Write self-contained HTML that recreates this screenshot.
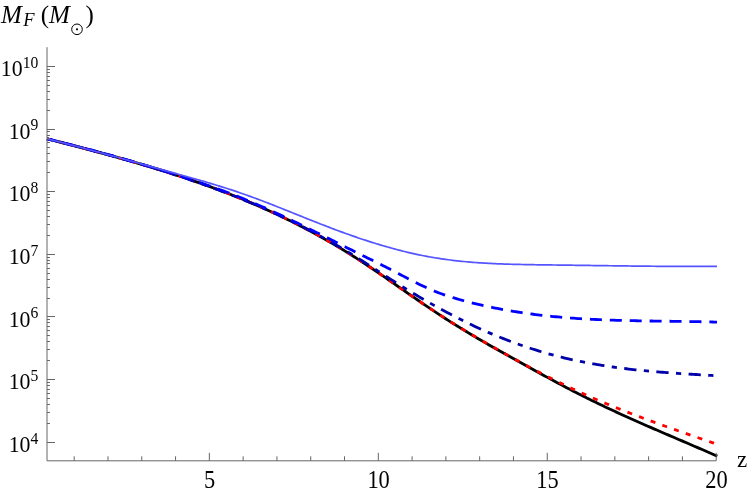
<!DOCTYPE html>
<html><head><meta charset="utf-8"><title>chart</title>
<style>html,body{margin:0;padding:0;background:#fff;}body{width:747px;height:492px;position:relative;overflow:hidden;font-family:"Liberation Serif",serif;}</style>
</head><body>
<svg width="747" height="492" viewBox="0 0 747 492" style="position:absolute;left:0;top:0">
<rect width="747" height="492" fill="#fff"/>
<g fill="none" stroke-linejoin="round">
<path d="M47.00,138.77 L49.24,139.35 L51.48,139.93 L53.73,140.51 L55.97,141.09 L58.21,141.67 L60.45,142.25 L62.69,142.83 L64.93,143.41 L67.18,143.99 L69.42,144.58 L71.66,145.16 L73.90,145.75 L76.14,146.33 L78.39,146.92 L80.63,147.51 L82.87,148.10 L85.11,148.69 L87.35,149.29 L89.59,149.88 L91.84,150.48 L94.08,151.08 L96.32,151.68 L98.56,152.28 L100.80,152.88 L103.05,153.49 L105.29,154.10 L107.53,154.71 L109.77,155.32 L112.01,155.94 L114.25,156.56 L116.50,157.18 L118.74,157.80 L120.98,158.43 L123.22,159.06 L125.46,159.69 L127.71,160.33 L129.95,160.97 L132.19,161.61 L134.43,162.25 L136.67,162.90 L138.91,163.56 L141.16,164.21 L143.40,164.87 L145.64,165.54 L147.88,166.21 L150.12,166.88 L152.36,167.56 L154.61,168.24 L156.85,168.92 L159.09,169.61 L161.33,170.30 L163.57,171.00 L165.82,171.71 L168.06,172.41 L170.30,173.13 L172.54,173.84 L174.78,174.57 L177.02,175.30 L179.27,176.03 L181.51,176.77 L183.75,177.51 L185.99,178.26 L188.23,179.02 L190.48,179.78 L192.72,180.54 L194.96,181.32 L197.20,182.09 L199.44,182.88 L201.68,183.67 L203.93,184.47 L206.17,185.27 L208.41,186.08 L210.65,186.89 L212.89,187.72 L215.14,188.55 L217.38,189.38 L219.62,190.22 L221.86,191.07 L224.10,191.93 L226.34,192.79 L228.59,193.67 L230.83,194.54 L233.07,195.43 L235.31,196.32 L237.55,197.22 L239.80,198.13 L242.04,199.05 L244.28,199.97 L246.52,200.91 L248.76,201.85 L251.00,202.79 L253.25,203.75 L255.49,204.71 L257.73,205.69 L259.97,206.67 L262.21,207.66 L264.46,208.66 L266.70,209.67 L268.94,210.68 L271.18,211.71 L273.42,212.74 L275.66,213.79 L277.91,214.84 L280.15,215.90 L282.39,216.97 L284.63,218.05 L286.87,219.14 L289.12,220.24 L291.36,221.35 L293.60,222.47 L295.84,223.60 L298.08,224.74 L300.32,225.89 L302.57,227.05 L304.81,228.22 L307.05,229.40 L309.29,230.59 L311.53,231.80 L313.77,233.01 L316.02,234.23 L318.26,235.46 L320.50,236.71 L322.74,237.96 L324.98,239.23 L327.23,240.51 L329.47,241.80 L331.71,243.10 L333.95,244.41 L336.19,245.73 L338.43,247.07 L340.68,248.41 L342.92,249.77 L345.16,251.14 L347.40,252.52 L349.64,253.92 L351.89,255.32 L354.13,256.74 L356.37,258.17 L358.61,259.62 L360.85,261.07 L363.09,262.54 L365.34,264.02 L367.58,265.51 L369.82,267.01 L372.06,268.52 L374.30,270.04 L376.55,271.56 L378.79,273.09 L381.03,274.63 L383.27,276.17 L385.51,277.72 L387.75,279.27 L390.00,280.83 L392.24,282.38 L394.48,283.94 L396.72,285.50 L398.96,287.06 L401.21,288.62 L403.45,290.18 L405.69,291.73 L407.93,293.29 L410.17,294.84 L412.41,296.39 L414.66,297.94 L416.90,299.48 L419.14,301.02 L421.38,302.56 L423.62,304.09 L425.87,305.61 L428.11,307.12 L430.35,308.63 L432.59,310.14 L434.83,311.63 L437.07,313.11 L439.32,314.59 L441.56,316.06 L443.80,317.51 L446.04,318.96 L448.28,320.39 L450.53,321.81 L452.77,323.23 L455.01,324.63 L457.25,326.02 L459.49,327.41 L461.73,328.78 L463.98,330.15 L466.22,331.50 L468.46,332.85 L470.70,334.20 L472.94,335.53 L475.18,336.86 L477.43,338.18 L479.67,339.49 L481.91,340.80 L484.15,342.10 L486.39,343.39 L488.64,344.68 L490.88,345.96 L493.12,347.24 L495.36,348.52 L497.60,349.79 L499.84,351.06 L502.09,352.32 L504.33,353.58 L506.57,354.83 L508.81,356.09 L511.05,357.34 L513.30,358.59 L515.54,359.83 L517.78,361.08 L520.02,362.32 L522.26,363.57 L524.50,364.81 L526.75,366.05 L528.99,367.29 L531.23,368.52 L533.47,369.76 L535.71,370.99 L537.96,372.22 L540.20,373.45 L542.44,374.68 L544.68,375.90 L546.92,377.11 L549.16,378.33 L551.41,379.54 L553.65,380.75 L555.89,381.95 L558.13,383.15 L560.37,384.34 L562.62,385.53 L564.86,386.71 L567.10,387.89 L569.34,389.06 L571.58,390.23 L573.82,391.39 L576.07,392.54 L578.31,393.69 L580.55,394.83 L582.79,395.96 L585.03,397.09 L587.28,398.21 L589.52,399.32 L591.76,400.42 L594.00,401.52 L596.24,402.61 L598.48,403.70 L600.73,404.77 L602.97,405.84 L605.21,406.91 L607.45,407.96 L609.69,409.02 L611.94,410.06 L614.18,411.10 L616.42,412.14 L618.66,413.17 L620.90,414.19 L623.14,415.21 L625.39,416.23 L627.63,417.24 L629.87,418.25 L632.11,419.25 L634.35,420.25 L636.59,421.25 L638.84,422.24 L641.08,423.23 L643.32,424.21 L645.56,425.20 L647.80,426.18 L650.05,427.15 L652.29,428.13 L654.53,429.10 L656.77,430.07 L659.01,431.04 L661.25,432.01 L663.50,432.97 L665.74,433.93 L667.98,434.90 L670.22,435.86 L672.46,436.82 L674.71,437.78 L676.95,438.74 L679.19,439.70 L681.43,440.66 L683.67,441.62 L685.91,442.58 L688.16,443.54 L690.40,444.50 L692.64,445.46 L694.88,446.43 L697.12,447.39 L699.37,448.36 L701.61,449.32 L703.85,450.29 L706.09,451.26 L708.33,452.24 L710.57,453.21 L712.82,454.19 L715.06,455.17 L717.30,456.15" stroke="#000" stroke-width="2.8"/>
<path d="M47.00,138.77 L49.24,139.35 L51.47,139.92 L53.71,140.50 L55.95,141.08 L58.19,141.66 L60.42,142.23 L62.66,142.81 L64.90,143.39 L67.14,143.97 L69.37,144.55 L71.61,145.13 L73.85,145.72 L76.09,146.30 L78.32,146.89 L80.56,147.47 L82.80,148.06 L85.04,148.65 L87.27,149.24 L89.51,149.84 L91.75,150.43 L93.99,151.03 L96.22,151.63 L98.46,152.23 L100.70,152.83 L102.94,153.44 L105.17,154.04 L107.41,154.65 L109.65,155.26 L111.89,155.88 L114.12,156.50 L116.36,157.12 L118.60,157.74 L120.84,158.37 L123.07,159.00 L125.31,159.63 L127.55,160.26 L129.79,160.90 L132.02,161.54 L134.26,162.19 L136.50,162.84 L138.74,163.49 L140.97,164.15 L143.21,164.81 L145.45,165.47 L147.69,166.14 L149.92,166.81 L152.16,167.49 L154.40,168.17 L156.64,168.85 L158.87,169.54 L161.11,170.23 L163.35,170.93 L165.59,171.63 L167.82,172.34 L170.06,173.05 L172.30,173.77 L174.54,174.49 L176.77,175.22 L179.01,175.95 L181.25,176.69 L183.48,177.43 L185.72,178.18 L187.96,178.93 L190.20,179.69 L192.43,180.46 L194.67,181.23 L196.91,182.01 L199.15,182.79 L201.38,183.58 L203.62,184.37 L205.86,185.18 L208.10,185.98 L210.33,186.80 L212.57,187.62 L214.81,188.44 L217.05,189.28 L219.28,190.12 L221.52,190.97 L223.76,191.82 L226.00,192.68 L228.23,193.55 L230.47,194.43 L232.71,195.31 L234.95,196.20 L237.18,197.10 L239.42,198.00 L241.66,198.91 L243.90,199.83 L246.13,200.76 L248.37,201.70 L250.61,202.64 L252.85,203.59 L255.08,204.55 L257.32,205.52 L259.56,206.50 L261.80,207.48 L264.03,208.48 L266.27,209.48 L268.51,210.49 L270.75,211.51 L272.98,212.54 L275.22,213.58 L277.46,214.62 L279.70,215.68 L281.93,216.74 L284.17,217.82 L286.41,218.90 L288.65,219.99 L290.88,221.09 L293.12,222.21 L295.36,223.33 L297.60,224.46 L299.83,225.60 L302.07,226.75 L304.31,227.92 L306.55,229.09 L308.78,230.27 L311.02,231.47 L313.26,232.67 L315.49,233.89 L317.73,235.11 L319.97,236.35 L322.21,237.60 L324.44,238.86 L326.68,240.13 L328.92,241.41 L331.16,242.71 L333.39,244.01 L335.63,245.33 L337.87,246.66 L340.11,248.00 L342.34,249.36 L344.58,250.72 L346.82,252.10 L349.06,253.49 L351.29,254.90 L353.53,256.32 L355.77,257.74 L358.01,259.19 L360.24,260.64 L362.48,262.11 L364.72,263.59 L366.96,265.08 L369.19,266.59 L371.43,268.10 L373.67,269.62 L375.91,271.15 L378.14,272.69 L380.38,274.23 L382.62,275.78 L384.86,277.34 L387.09,278.90 L389.33,280.46 L391.57,282.02 L393.81,283.59 L396.04,285.16 L398.28,286.72 L400.52,288.29 L402.76,289.85 L404.99,291.42 L407.23,292.97 L409.47,294.53 L411.71,296.08 L413.94,297.62 L416.18,299.16 L418.42,300.69 L420.66,302.21 L422.89,303.72 L425.13,305.22 L427.37,306.72 L429.61,308.20 L431.84,309.68 L434.08,311.15 L436.32,312.61 L438.56,314.06 L440.79,315.50 L443.03,316.93 L445.27,318.36 L447.51,319.78 L449.74,321.18 L451.98,322.59 L454.22,323.98 L456.45,325.36 L458.69,326.74 L460.93,328.11 L463.17,329.47 L465.40,330.83 L467.64,332.18 L469.88,333.52 L472.12,334.85 L474.35,336.17 L476.59,337.49 L478.83,338.80 L481.07,340.11 L483.30,341.41 L485.54,342.70 L487.78,343.99 L490.02,345.28 L492.25,346.56 L494.49,347.83 L496.73,349.10 L498.97,350.37 L501.20,351.63 L503.44,352.89 L505.68,354.14 L507.92,355.39 L510.15,356.64 L512.39,357.88 L514.63,359.11 L516.87,360.34 L519.10,361.56 L521.34,362.78 L523.58,364.00 L525.82,365.20 L528.05,366.40 L530.29,367.60 L532.53,368.79 L534.77,369.97 L537.00,371.14 L539.24,372.31 L541.48,373.48 L543.72,374.63 L545.95,375.78 L548.19,376.92 L550.43,378.05 L552.67,379.18 L554.90,380.29 L557.14,381.40 L559.38,382.50 L561.62,383.60 L563.85,384.68 L566.09,385.76 L568.33,386.82 L570.57,387.88 L572.80,388.93 L575.04,389.97 L577.28,391.00 L579.52,392.03 L581.75,393.04 L583.99,394.05 L586.23,395.05 L588.46,396.04 L590.70,397.02 L592.94,398.00 L595.18,398.96 L597.41,399.92 L599.65,400.87 L601.89,401.82 L604.13,402.76 L606.36,403.69 L608.60,404.61 L610.84,405.53 L613.08,406.44 L615.31,407.35 L617.55,408.25 L619.79,409.14 L622.03,410.03 L624.26,410.91 L626.50,411.79 L628.74,412.66 L630.98,413.52 L633.21,414.38 L635.45,415.24 L637.69,416.09 L639.93,416.93 L642.16,417.77 L644.40,418.61 L646.64,419.44 L648.88,420.27 L651.11,421.09 L653.35,421.91 L655.59,422.73 L657.83,423.54 L660.06,424.35 L662.30,425.15 L664.54,425.96 L666.78,426.76 L669.01,427.55 L671.25,428.35 L673.49,429.14 L675.73,429.92 L677.96,430.71 L680.20,431.49 L682.44,432.28 L684.68,433.05 L686.91,433.83 L689.15,434.61 L691.39,435.38 L693.63,436.16 L695.86,436.93 L698.10,437.70 L700.34,438.47 L702.58,439.24 L704.81,440.01 L707.05,440.77 L709.29,441.54 L711.53,442.31 L713.76,443.08 L716.00,443.84" stroke="#ff0000" stroke-width="2.8" stroke-dasharray="5 7.42" stroke-dashoffset="0.04"/>
<path d="M47.00,138.82 L49.24,139.37 L51.47,139.92 L53.71,140.47 L55.95,141.03 L58.19,141.58 L60.42,142.14 L62.66,142.70 L64.90,143.27 L67.14,143.83 L69.37,144.40 L71.61,144.97 L73.85,145.54 L76.09,146.12 L78.32,146.69 L80.56,147.27 L82.80,147.85 L85.04,148.44 L87.27,149.02 L89.51,149.61 L91.75,150.21 L93.99,150.80 L96.22,151.40 L98.46,152.00 L100.70,152.61 L102.94,153.21 L105.17,153.82 L107.41,154.44 L109.65,155.05 L111.89,155.67 L114.12,156.30 L116.36,156.92 L118.60,157.55 L120.84,158.19 L123.07,158.82 L125.31,159.46 L127.55,160.11 L129.79,160.75 L132.02,161.41 L134.26,162.06 L136.50,162.72 L138.74,163.38 L140.97,164.05 L143.21,164.72 L145.45,165.39 L147.69,166.07 L149.92,166.75 L152.16,167.44 L154.40,168.13 L156.64,168.83 L158.87,169.53 L161.11,170.23 L163.35,170.94 L165.59,171.65 L167.82,172.37 L170.06,173.09 L172.30,173.82 L174.54,174.55 L176.77,175.29 L179.01,176.03 L181.25,176.78 L183.48,177.53 L185.72,178.28 L187.96,179.05 L190.20,179.81 L192.43,180.58 L194.67,181.36 L196.91,182.14 L199.15,182.93 L201.38,183.72 L203.62,184.52 L205.86,185.32 L208.10,186.13 L210.33,186.95 L212.57,187.77 L214.81,188.59 L217.05,189.42 L219.28,190.26 L221.52,191.11 L223.76,191.96 L226.00,192.82 L228.23,193.68 L230.47,194.55 L232.71,195.43 L234.95,196.31 L237.18,197.20 L239.42,198.10 L241.66,199.01 L243.90,199.92 L246.13,200.84 L248.37,201.76 L250.61,202.70 L252.85,203.64 L255.08,204.59 L257.32,205.55 L259.56,206.51 L261.80,207.48 L264.03,208.47 L266.27,209.46 L268.51,210.45 L270.75,211.46 L272.98,212.47 L275.22,213.50 L277.46,214.53 L279.70,215.57 L281.93,216.62 L284.17,217.68 L286.41,218.74 L288.65,219.82 L290.88,220.91 L293.12,222.00 L295.36,223.11 L297.60,224.22 L299.83,225.34 L302.07,226.48 L304.31,227.62 L306.55,228.77 L308.78,229.94 L311.02,231.11 L313.26,232.29 L315.49,233.49 L317.73,234.69 L319.97,235.91 L322.21,237.13 L324.44,238.37 L326.68,239.61 L328.92,240.87 L331.16,242.14 L333.39,243.42 L335.63,244.71 L337.87,246.01 L340.11,247.33 L342.34,248.65 L344.58,249.98 L346.82,251.33 L349.06,252.68 L351.29,254.05 L353.53,255.43 L355.77,256.81 L358.01,258.21 L360.24,259.62 L362.48,261.04 L364.72,262.46 L366.96,263.90 L369.19,265.34 L371.43,266.79 L373.67,268.24 L375.91,269.69 L378.14,271.14 L380.38,272.60 L382.62,274.05 L384.86,275.50 L387.09,276.95 L389.33,278.39 L391.57,279.82 L393.81,281.25 L396.04,282.67 L398.28,284.09 L400.52,285.49 L402.76,286.89 L404.99,288.28 L407.23,289.65 L409.47,291.02 L411.71,292.38 L413.94,293.73 L416.18,295.07 L418.42,296.40 L420.66,297.72 L422.89,299.02 L425.13,300.31 L427.37,301.60 L429.61,302.87 L431.84,304.13 L434.08,305.38 L436.32,306.62 L438.56,307.85 L440.79,309.07 L443.03,310.28 L445.27,311.48 L447.51,312.67 L449.74,313.85 L451.98,315.02 L454.22,316.18 L456.45,317.33 L458.69,318.47 L460.93,319.60 L463.17,320.72 L465.40,321.83 L467.64,322.93 L469.88,324.01 L472.12,325.08 L474.35,326.14 L476.59,327.19 L478.83,328.22 L481.07,329.23 L483.30,330.24 L485.54,331.23 L487.78,332.20 L490.02,333.16 L492.25,334.11 L494.49,335.04 L496.73,335.96 L498.97,336.87 L501.20,337.76 L503.44,338.64 L505.68,339.51 L507.92,340.37 L510.15,341.21 L512.39,342.04 L514.63,342.86 L516.87,343.67 L519.10,344.46 L521.34,345.25 L523.58,346.02 L525.82,346.78 L528.05,347.52 L530.29,348.26 L532.53,348.98 L534.77,349.69 L537.00,350.38 L539.24,351.07 L541.48,351.74 L543.72,352.40 L545.95,353.05 L548.19,353.68 L550.43,354.30 L552.67,354.91 L554.90,355.51 L557.14,356.09 L559.38,356.67 L561.62,357.23 L563.85,357.77 L566.09,358.31 L568.33,358.83 L570.57,359.34 L572.80,359.84 L575.04,360.33 L577.28,360.80 L579.52,361.27 L581.75,361.72 L583.99,362.16 L586.23,362.59 L588.46,363.01 L590.70,363.43 L592.94,363.83 L595.18,364.22 L597.41,364.60 L599.65,364.97 L601.89,365.33 L604.13,365.69 L606.36,366.03 L608.60,366.37 L610.84,366.69 L613.08,367.01 L615.31,367.32 L617.55,367.62 L619.79,367.92 L622.03,368.20 L624.26,368.48 L626.50,368.75 L628.74,369.02 L630.98,369.27 L633.21,369.52 L635.45,369.77 L637.69,370.00 L639.93,370.23 L642.16,370.46 L644.40,370.68 L646.64,370.89 L648.88,371.10 L651.11,371.30 L653.35,371.50 L655.59,371.69 L657.83,371.88 L660.06,372.06 L662.30,372.24 L664.54,372.42 L666.78,372.59 L669.01,372.75 L671.25,372.92 L673.49,373.08 L675.73,373.23 L677.96,373.39 L680.20,373.54 L682.44,373.68 L684.68,373.83 L686.91,373.97 L689.15,374.11 L691.39,374.25 L693.63,374.39 L695.86,374.52 L698.10,374.65 L700.34,374.79 L702.58,374.92 L704.81,375.05 L707.05,375.18 L709.29,375.31 L711.53,375.44 L713.76,375.56 L716.00,375.69" stroke="#0000aa" stroke-width="2.8" stroke-dasharray="12.3 7.4 5.2 7.39" stroke-dashoffset="19.87"/>
<path d="M47.00,138.80 L49.24,139.34 L51.48,139.89 L53.72,140.44 L55.96,140.99 L58.20,141.54 L60.44,142.10 L62.69,142.66 L64.93,143.22 L67.17,143.79 L69.41,144.35 L71.65,144.92 L73.89,145.50 L76.13,146.08 L78.37,146.65 L80.61,147.24 L82.85,147.82 L85.09,148.41 L87.33,149.00 L89.58,149.60 L91.82,150.19 L94.06,150.79 L96.30,151.40 L98.54,152.00 L100.78,152.61 L103.02,153.22 L105.26,153.84 L107.50,154.46 L109.74,155.08 L111.98,155.70 L114.22,156.33 L116.46,156.96 L118.71,157.59 L120.95,158.22 L123.19,158.86 L125.43,159.50 L127.67,160.15 L129.91,160.80 L132.15,161.45 L134.39,162.10 L136.63,162.76 L138.87,163.42 L141.11,164.08 L143.35,164.75 L145.60,165.42 L147.84,166.09 L150.08,166.76 L152.32,167.44 L154.56,168.12 L156.80,168.81 L159.04,169.49 L161.28,170.18 L163.52,170.88 L165.76,171.57 L168.00,172.27 L170.24,172.98 L172.48,173.68 L174.73,174.39 L176.97,175.10 L179.21,175.82 L181.45,176.54 L183.69,177.26 L185.93,177.99 L188.17,178.72 L190.41,179.45 L192.65,180.19 L194.89,180.93 L197.13,181.68 L199.37,182.44 L201.62,183.20 L203.86,183.96 L206.10,184.73 L208.34,185.51 L210.58,186.29 L212.82,187.08 L215.06,187.88 L217.30,188.69 L219.54,189.50 L221.78,190.32 L224.02,191.15 L226.26,191.99 L228.51,192.84 L230.75,193.69 L232.99,194.55 L235.23,195.43 L237.47,196.31 L239.71,197.20 L241.95,198.11 L244.19,199.02 L246.43,199.94 L248.67,200.87 L250.91,201.82 L253.15,202.77 L255.39,203.73 L257.64,204.69 L259.88,205.67 L262.12,206.66 L264.36,207.65 L266.60,208.65 L268.84,209.66 L271.08,210.67 L273.32,211.69 L275.56,212.72 L277.80,213.76 L280.04,214.80 L282.28,215.85 L284.53,216.90 L286.77,217.96 L289.01,219.03 L291.25,220.10 L293.49,221.17 L295.73,222.25 L297.97,223.34 L300.21,224.42 L302.45,225.52 L304.69,226.61 L306.93,227.71 L309.17,228.82 L311.41,229.93 L313.66,231.04 L315.90,232.15 L318.14,233.26 L320.38,234.38 L322.62,235.50 L324.86,236.62 L327.10,237.75 L329.34,238.87 L331.58,240.00 L333.82,241.12 L336.06,242.25 L338.30,243.38 L340.55,244.50 L342.79,245.63 L345.03,246.75 L347.27,247.88 L349.51,249.00 L351.75,250.12 L353.99,251.24 L356.23,252.36 L358.47,253.47 L360.71,254.58 L362.95,255.69 L365.19,256.80 L367.43,257.90 L369.68,259.01 L371.92,260.11 L374.16,261.22 L376.40,262.33 L378.64,263.44 L380.88,264.56 L383.12,265.68 L385.36,266.82 L387.60,267.95 L389.84,269.10 L392.08,270.26 L394.32,271.43 L396.57,272.60 L398.81,273.78 L401.05,274.95 L403.29,276.13 L405.53,277.30 L407.77,278.47 L410.01,279.63 L412.25,280.78 L414.49,281.91 L416.73,283.03 L418.97,284.14 L421.21,285.22 L423.45,286.28 L425.70,287.32 L427.94,288.33 L430.18,289.31 L432.42,290.26 L434.66,291.19 L436.90,292.08 L439.14,292.94 L441.38,293.77 L443.62,294.57 L445.86,295.34 L448.10,296.09 L450.34,296.82 L452.59,297.52 L454.83,298.20 L457.07,298.86 L459.31,299.50 L461.55,300.13 L463.79,300.74 L466.03,301.33 L468.27,301.91 L470.51,302.48 L472.75,303.04 L474.99,303.58 L477.23,304.12 L479.47,304.64 L481.72,305.15 L483.96,305.66 L486.20,306.15 L488.44,306.63 L490.68,307.10 L492.92,307.57 L495.16,308.02 L497.40,308.46 L499.64,308.89 L501.88,309.31 L504.12,309.73 L506.36,310.13 L508.61,310.52 L510.85,310.91 L513.09,311.28 L515.33,311.65 L517.57,312.00 L519.81,312.35 L522.05,312.69 L524.29,313.02 L526.53,313.34 L528.77,313.65 L531.01,313.96 L533.25,314.25 L535.49,314.54 L537.74,314.81 L539.98,315.09 L542.22,315.35 L544.46,315.60 L546.70,315.85 L548.94,316.09 L551.18,316.32 L553.42,316.54 L555.66,316.75 L557.90,316.96 L560.14,317.16 L562.38,317.36 L564.63,317.54 L566.87,317.72 L569.11,317.90 L571.35,318.06 L573.59,318.22 L575.83,318.38 L578.07,318.53 L580.31,318.67 L582.55,318.81 L584.79,318.94 L587.03,319.07 L589.27,319.19 L591.52,319.30 L593.76,319.41 L596.00,319.52 L598.24,319.62 L600.48,319.71 L602.72,319.81 L604.96,319.89 L607.20,319.98 L609.44,320.06 L611.68,320.13 L613.92,320.21 L616.16,320.28 L618.40,320.34 L620.65,320.40 L622.89,320.46 L625.13,320.52 L627.37,320.57 L629.61,320.62 L631.85,320.67 L634.09,320.72 L636.33,320.76 L638.57,320.80 L640.81,320.84 L643.05,320.88 L645.29,320.91 L647.54,320.95 L649.78,320.98 L652.02,321.02 L654.26,321.05 L656.50,321.08 L658.74,321.11 L660.98,321.14 L663.22,321.17 L665.46,321.19 L667.70,321.22 L669.94,321.25 L672.18,321.28 L674.42,321.31 L676.67,321.34 L678.91,321.37 L681.15,321.40 L683.39,321.43 L685.63,321.46 L687.87,321.49 L690.11,321.53 L692.35,321.57 L694.59,321.60 L696.83,321.64 L699.07,321.69 L701.31,321.73 L703.56,321.78 L705.80,321.82 L708.04,321.87 L710.28,321.93 L712.52,321.98 L714.76,322.04 L717.00,322.11" stroke="#0000ff" stroke-width="2.8" stroke-dasharray="12 7.91" stroke-dashoffset="1.0"/>
<path d="M47.00,138.76 L49.24,139.33 L51.48,139.89 L53.72,140.46 L55.96,141.03 L58.20,141.60 L60.44,142.17 L62.69,142.75 L64.93,143.33 L67.17,143.91 L69.41,144.49 L71.65,145.07 L73.89,145.66 L76.13,146.24 L78.37,146.83 L80.61,147.42 L82.85,148.01 L85.09,148.60 L87.33,149.20 L89.58,149.79 L91.82,150.39 L94.06,150.99 L96.30,151.59 L98.54,152.19 L100.78,152.79 L103.02,153.40 L105.26,154.00 L107.50,154.61 L109.74,155.22 L111.98,155.83 L114.22,156.44 L116.46,157.05 L118.71,157.66 L120.95,158.27 L123.19,158.89 L125.43,159.50 L127.67,160.12 L129.91,160.73 L132.15,161.35 L134.39,161.97 L136.63,162.59 L138.87,163.21 L141.11,163.83 L143.35,164.45 L145.60,165.07 L147.84,165.69 L150.08,166.32 L152.32,166.94 L154.56,167.56 L156.80,168.19 L159.04,168.81 L161.28,169.44 L163.52,170.06 L165.76,170.69 L168.00,171.31 L170.24,171.94 L172.48,172.57 L174.73,173.19 L176.97,173.82 L179.21,174.45 L181.45,175.07 L183.69,175.70 L185.93,176.33 L188.17,176.96 L190.41,177.59 L192.65,178.23 L194.89,178.86 L197.13,179.50 L199.37,180.14 L201.62,180.79 L203.86,181.44 L206.10,182.09 L208.34,182.75 L210.58,183.42 L212.82,184.09 L215.06,184.76 L217.30,185.44 L219.54,186.13 L221.78,186.83 L224.02,187.53 L226.26,188.24 L228.51,188.96 L230.75,189.68 L232.99,190.42 L235.23,191.16 L237.47,191.92 L239.71,192.68 L241.95,193.46 L244.19,194.24 L246.43,195.04 L248.67,195.84 L250.91,196.65 L253.15,197.47 L255.39,198.30 L257.64,199.14 L259.88,199.98 L262.12,200.83 L264.36,201.68 L266.60,202.54 L268.84,203.41 L271.08,204.28 L273.32,205.16 L275.56,206.04 L277.80,206.93 L280.04,207.82 L282.28,208.71 L284.53,209.60 L286.77,210.50 L289.01,211.39 L291.25,212.29 L293.49,213.19 L295.73,214.09 L297.97,214.99 L300.21,215.89 L302.45,216.79 L304.69,217.69 L306.93,218.59 L309.17,219.48 L311.41,220.38 L313.66,221.27 L315.90,222.15 L318.14,223.04 L320.38,223.92 L322.62,224.79 L324.86,225.66 L327.10,226.53 L329.34,227.39 L331.58,228.24 L333.82,229.08 L336.06,229.93 L338.30,230.76 L340.55,231.59 L342.79,232.41 L345.03,233.22 L347.27,234.02 L349.51,234.82 L351.75,235.61 L353.99,236.39 L356.23,237.17 L358.47,237.93 L360.71,238.69 L362.95,239.44 L365.19,240.18 L367.43,240.91 L369.68,241.63 L371.92,242.34 L374.16,243.04 L376.40,243.74 L378.64,244.42 L380.88,245.09 L383.12,245.75 L385.36,246.41 L387.60,247.05 L389.84,247.68 L392.08,248.30 L394.32,248.91 L396.57,249.50 L398.81,250.09 L401.05,250.66 L403.29,251.23 L405.53,251.78 L407.77,252.31 L410.01,252.84 L412.25,253.35 L414.49,253.85 L416.73,254.34 L418.97,254.81 L421.21,255.27 L423.45,255.72 L425.70,256.15 L427.94,256.57 L430.18,256.98 L432.42,257.37 L434.66,257.75 L436.90,258.11 L439.14,258.46 L441.38,258.80 L443.62,259.13 L445.86,259.44 L448.10,259.74 L450.34,260.03 L452.59,260.30 L454.83,260.57 L457.07,260.82 L459.31,261.06 L461.55,261.30 L463.79,261.52 L466.03,261.73 L468.27,261.93 L470.51,262.12 L472.75,262.30 L474.99,262.48 L477.23,262.64 L479.47,262.80 L481.72,262.95 L483.96,263.09 L486.20,263.22 L488.44,263.35 L490.68,263.46 L492.92,263.58 L495.16,263.68 L497.40,263.78 L499.64,263.87 L501.88,263.96 L504.12,264.04 L506.36,264.11 L508.61,264.19 L510.85,264.25 L513.09,264.31 L515.33,264.37 L517.57,264.42 L519.81,264.47 L522.05,264.52 L524.29,264.56 L526.53,264.61 L528.77,264.64 L531.01,264.68 L533.25,264.71 L535.49,264.75 L537.74,264.78 L539.98,264.81 L542.22,264.84 L544.46,264.86 L546.70,264.89 L548.94,264.92 L551.18,264.95 L553.42,264.98 L555.66,265.01 L557.90,265.03 L560.14,265.06 L562.38,265.09 L564.63,265.12 L566.87,265.15 L569.11,265.18 L571.35,265.21 L573.59,265.25 L575.83,265.28 L578.07,265.31 L580.31,265.34 L582.55,265.37 L584.79,265.40 L587.03,265.43 L589.27,265.46 L591.52,265.50 L593.76,265.53 L596.00,265.56 L598.24,265.59 L600.48,265.62 L602.72,265.65 L604.96,265.68 L607.20,265.71 L609.44,265.74 L611.68,265.77 L613.92,265.80 L616.16,265.83 L618.40,265.86 L620.65,265.89 L622.89,265.92 L625.13,265.95 L627.37,265.97 L629.61,266.00 L631.85,266.03 L634.09,266.05 L636.33,266.08 L638.57,266.10 L640.81,266.13 L643.05,266.15 L645.29,266.17 L647.54,266.20 L649.78,266.22 L652.02,266.24 L654.26,266.26 L656.50,266.28 L658.74,266.30 L660.98,266.32 L663.22,266.33 L665.46,266.35 L667.70,266.37 L669.94,266.38 L672.18,266.39 L674.42,266.41 L676.67,266.42 L678.91,266.43 L681.15,266.44 L683.39,266.45 L685.63,266.45 L687.87,266.46 L690.11,266.47 L692.35,266.47 L694.59,266.47 L696.83,266.47 L699.07,266.47 L701.31,266.47 L703.56,266.47 L705.80,266.47 L708.04,266.46 L710.28,266.46 L712.52,266.45 L714.76,266.44 L717.00,266.43" stroke="#5555ff" stroke-width="1.7"/>
</g>
<path d="M47.0,47.2 V460.8 H716.2 M74.19,460.8 v-4.5 M107.98,460.8 v-4.5 M141.77,460.8 v-4.5 M175.56,460.8 v-4.5 M209.35,460.8 v-8 M243.14,460.8 v-4.5 M276.93,460.8 v-4.5 M310.72,460.8 v-4.5 M344.51,460.8 v-4.5 M378.30,460.8 v-8 M412.09,460.8 v-4.5 M445.88,460.8 v-4.5 M479.67,460.8 v-4.5 M513.46,460.8 v-4.5 M547.25,460.8 v-8 M581.04,460.8 v-4.5 M614.83,460.8 v-4.5 M648.62,460.8 v-4.5 M682.41,460.8 v-4.5 M716.20,460.8 v-8 M47.0,442.50 h8 M47.0,423.50 h2.9 M47.0,412.50 h2.9 M47.0,404.50 h2.9 M47.0,398.50 h2.9 M47.0,393.50 h2.9 M47.0,389.50 h2.9 M47.0,385.50 h2.9 M47.0,382.50 h2.9 M47.0,379.50 h8 M47.0,360.50 h2.9 M47.0,349.50 h2.9 M47.0,341.50 h2.9 M47.0,335.50 h2.9 M47.0,330.50 h2.9 M47.0,326.50 h2.9 M47.0,322.50 h2.9 M47.0,319.50 h2.9 M47.0,316.50 h8 M47.0,298.50 h2.9 M47.0,287.50 h2.9 M47.0,279.50 h2.9 M47.0,273.50 h2.9 M47.0,268.50 h2.9 M47.0,263.50 h2.9 M47.0,260.50 h2.9 M47.0,257.50 h2.9 M47.0,254.50 h8 M47.0,235.50 h2.9 M47.0,224.50 h2.9 M47.0,216.50 h2.9 M47.0,210.50 h2.9 M47.0,205.50 h2.9 M47.0,201.50 h2.9 M47.0,197.50 h2.9 M47.0,194.50 h2.9 M47.0,191.50 h8 M47.0,172.50 h2.9 M47.0,161.50 h2.9 M47.0,153.50 h2.9 M47.0,147.50 h2.9 M47.0,142.50 h2.9 M47.0,138.50 h2.9 M47.0,135.50 h2.9 M47.0,131.50 h2.9 M47.0,129.50 h8 M47.0,110.50 h2.9 M47.0,99.50 h2.9 M47.0,91.50 h2.9 M47.0,85.50 h2.9 M47.0,80.50 h2.9 M47.0,76.50 h2.9 M47.0,72.50 h2.9 M47.0,69.50 h2.9 M47.0,66.50 h8" fill="none" stroke="#666" stroke-width="1"/>
<g font-family="Liberation Serif, serif" fill="#000" opacity="0.995">
<text transform="translate(209.65,487.6) scale(0.975,1.05)" font-size="23" text-anchor="middle">5</text>
<text transform="translate(378.60,487.6) scale(0.975,1.05)" font-size="23" text-anchor="middle">10</text>
<text transform="translate(547.55,487.6) scale(0.975,1.05)" font-size="23" text-anchor="middle">15</text>
<text transform="translate(716.50,487.6) scale(0.975,1.05)" font-size="23" text-anchor="middle">20</text>
<text x="737" y="467" font-size="23">z</text>
<text transform="translate(38.3,451.83) scale(0.95,1.045)" font-size="23" text-anchor="end">10<tspan font-size="16.5" dy="-7.9">4</tspan></text>
<text transform="translate(38.3,389.20) scale(0.95,1.045)" font-size="23" text-anchor="end">10<tspan font-size="16.5" dy="-7.9">5</tspan></text>
<text transform="translate(38.3,326.57) scale(0.95,1.045)" font-size="23" text-anchor="end">10<tspan font-size="16.5" dy="-7.9">6</tspan></text>
<text transform="translate(38.3,263.94) scale(0.95,1.045)" font-size="23" text-anchor="end">10<tspan font-size="16.5" dy="-7.9">7</tspan></text>
<text transform="translate(38.3,201.31) scale(0.95,1.045)" font-size="23" text-anchor="end">10<tspan font-size="16.5" dy="-7.9">8</tspan></text>
<text transform="translate(38.3,138.68) scale(0.95,1.045)" font-size="23" text-anchor="end">10<tspan font-size="16.5" dy="-7.9">9</tspan></text>
<text transform="translate(38.3,76.05) scale(0.95,1.045)" font-size="23" text-anchor="end">10<tspan font-size="16.5" dy="-7.9">10</tspan></text>
<text x="1" y="22.8" font-size="25" font-style="italic">M</text>
<text x="23.2" y="25.8" font-size="18.5" font-style="italic">F</text>
<text x="40.8" y="22.8" font-size="25">(</text>
<text x="49.1" y="22.8" font-size="25" font-style="italic">M</text>
<text x="85.5" y="22.8" font-size="25">)</text>
</g>
<circle cx="77" cy="29.3" r="5.3" fill="none" stroke="#000" stroke-width="1"/><circle cx="77" cy="29.3" r="1.1" fill="#000"/>
</svg>
</body></html>
